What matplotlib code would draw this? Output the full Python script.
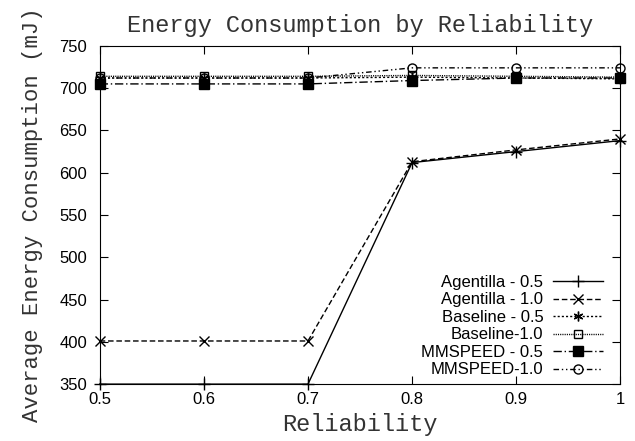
import numpy as np
import matplotlib
matplotlib.use("Agg")
import matplotlib.pyplot as plt

# datos
reliability = [0.5, 0.6, 0.7, 0.8, 0.9, 1.0]
agentilla_05 = [350, 350, 350, 612, 625, 638]
agentilla_10 = [401, 401, 401, 613, 627, 640]
baseline_05 = [712, 712, 712, 713, 712, 711]
baseline_10 = [714, 714, 714, 715, 714, 713]
mmspeed_05 = [705, 705, 705, 709, 712, 712]
mmspeed_10 = [712, 712, 712, 724, 724, 724]

labels = ["Agentilla - 0.5", "Agentilla - 1.0", "Baseline - 0.5",
          "Baseline-1.0", "MMSPEED - 0.5", "MMSPEED-1.0"]
series = [agentilla_05, agentilla_10, baseline_05, baseline_10, mmspeed_05, mmspeed_10]
markers = ["+", "x", (6, 2, 0), "s", "s", "o"]
fills = ["full", "full", "full", "none", "full", "none"]
styles = ["-", (0, (4, 2)), (0, (1.5, 1.5)), (0, (0.8, 0.8)), (0, (6, 2, 1, 2)), (0, (4, 2, 1, 2, 1, 2))]
sizes = [8, 6.5, 7, 6, 6.5, 6.5]

fig = plt.figure(figsize=(6.35, 4.41), dpi=100)
ax = fig.add_axes([0.157, 0.129, 0.820, 0.767])

for s, lab, m, f, ls, ms in zip(series, labels, markers, fills, styles, sizes):
    ax.plot(reliability, s, color="black", linestyle=ls, linewidth=1.0,
            marker=m, markersize=ms, fillstyle=f, markerfacecolor="black" if f == "full" else "white",
            markeredgewidth=1.0, label=lab, clip_on=False)

ax.set_xlim(0.5, 1.0)
ax.set_ylim(350, 750)
ax.set_xticks(reliability)
ax.set_xticklabels(["0.5", "0.6", "0.7", "0.8", "0.9", "1"])
ax.set_yticks(np.arange(350, 751, 50))
ax.tick_params(direction="in", top=True, right=True, length=6, labelsize=12)
ax.tick_params(axis="x", pad=6)
ax.tick_params(axis="y", pad=9)
for lab in ax.get_xticklabels() + ax.get_yticklabels():
    lab.set_family("Liberation Sans")

mono = dict(family="Liberation Mono", color="#333333")
ax.set_title("Energy Consumption by Reliability", fontsize=17, pad=10, **mono)
ax.set_xlabel("Reliability", fontsize=17, labelpad=4, **mono)
ax.set_ylabel("Average Energy Consumption (mJ)", fontsize=16, labelpad=12, **mono)

leg = ax.legend(loc="lower right", frameon=False, markerfirst=False, handlelength=3.0,
                prop={"family": "Liberation Sans", "size": 12}, labelspacing=0.15,
                borderaxespad=0.0, handletextpad=0.6, bbox_to_anchor=(0.98, 0.0))
for t in leg.get_texts():
    t.set_ha("right")
leg._legend_box.align = "right"

plt.savefig("out.png", dpi=100)
